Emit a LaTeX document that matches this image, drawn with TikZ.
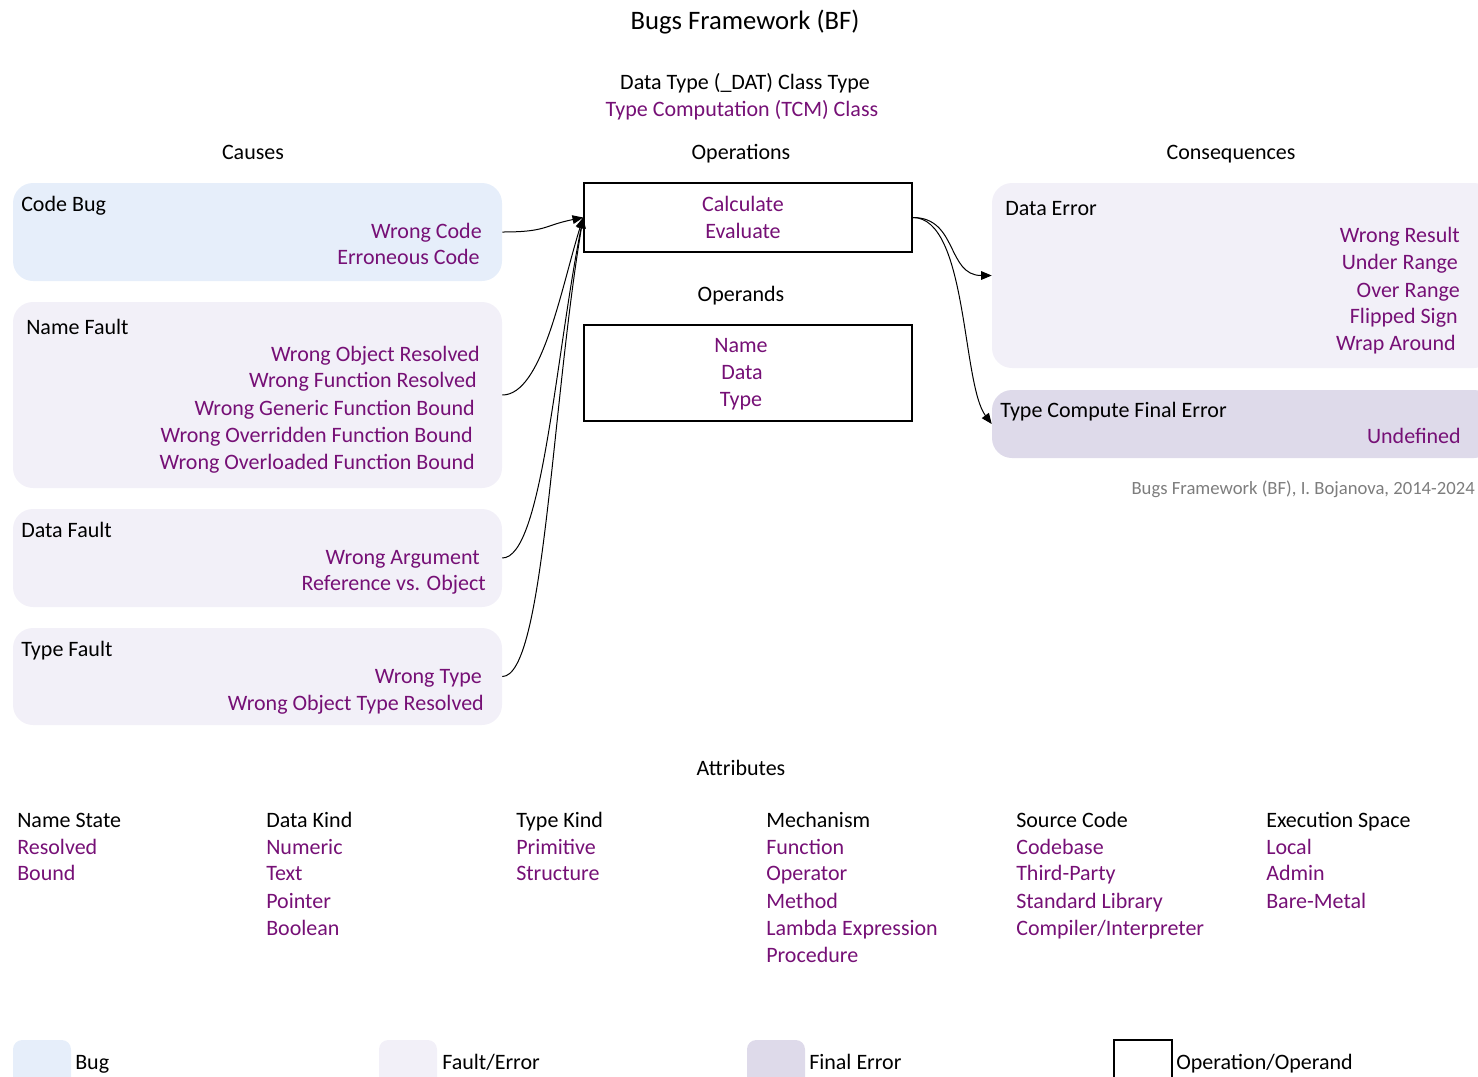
\documentclass[tikz,border=0pt]{standalone}
\usepackage{fontspec}
\setmainfont{Carlito}
\usetikzlibrary{arrows.meta,fit}

\definecolor{bugfill}{RGB}{230,238,250}
\definecolor{faultfill}{RGB}{242,240,248}
\definecolor{finalfill}{RGB}{222,218,234}
\definecolor{bfpurple}{RGB}{118,16,118}
\definecolor{notegray}{RGB}{125,125,125}

\tikzset{
  lbl/.style={inner sep=0.75pt, shift={(0,-2)}, text height=11.5pt, text depth=4pt, font=\fontsize{16.5}{20}\selectfont},
  val/.style={lbl, text=bfpurple},
  bugbox/.style={rounded corners=15pt, fill=bugfill, draw=none, inner sep=0pt},
  faultbox/.style={rounded corners=15pt, fill=faultfill, draw=none, inner sep=0pt},
  finalbox/.style={rounded corners=15pt, fill=finalfill, draw=none, inner sep=0pt},
  opbox/.style={draw=black, fill=white, line width=1.2pt, inner sep=0pt},
  link/.style={-{Triangle[length=8pt,width=6.5pt]}, line width=0.75pt}
}

\begin{document}
\begin{tikzpicture}[x=0.75pt,y=0.75pt,yscale=-1,xscale=1]
\useasboundingbox (0,0) rectangle (1478,1076);

% Title
\node (title) [inner sep=0.75pt, shift={(0,-2)}, font=\fontsize{20}{24}\selectfont] at (745,20) {Bugs Framework (BF)};
\node (classtype) [lbl] at (745,82) {Data Type (\_DAT) Class Type};
\node (classname) [val] at (742,109) {Type Computation (TCM) Class};

% Column headers
\node (causes) [lbl] at (253,152) {Causes};
\node (operations) [lbl] at (741,152) {Operations};
\node (consequences) [lbl] at (1231,152) {Consequences};
\node (operands) [lbl] at (741,294) {Operands};

%Shape: Cause boxes
\node (codebug) [bugbox, fit={(13,183) (502,281)}] {};
\node (namefault) [faultbox, fit={(13,302) (502,488)}] {};
\node (datafault) [faultbox, fit={(13,509) (502,607)}] {};
\node (typefault) [faultbox, fit={(13,628) (502,725)}] {};

%Shape: Operation / operand boxes
\node (ops) [opbox, fit={(584,183) (912,252)}] {};
\node (opnds) [opbox, fit={(584,325) (912,421)}] {};

%Shape: Consequence boxes
\node (dataerr) [faultbox, fit={(992,183) (1494,368)}] {};
\node (tcferr) [finalbox, fit={(992,390) (1494,458)}] {};

% Text Node: Code Bug
\node (cbhead) [lbl, anchor=west] at (20,204) {Code Bug};
\node (cb1) [val, anchor=east] at (483,231) {Wrong Code};
\node (cb2) [val, anchor=east] at (481,257) {Erroneous Code};

% Text Node: Name Fault
\node (nfhead) [lbl, anchor=west] at (25,327) {Name Fault};
\node (nf1) [val, anchor=east] at (481,354) {Wrong Object Resolved};
\node (nf2) [val, anchor=east] at (478,380) {Wrong Function Resolved};
\node (nf3) [val, anchor=east] at (476,408) {Wrong Generic Function Bound};
\node (nf4) [val, anchor=east] at (474,435) {Wrong Overridden Function Bound};
\node (nf5) [val, anchor=east] at (476,462) {Wrong Overloaded Function Bound};

% Text Node: Data Fault
\node (dfhead) [lbl, anchor=west] at (20,530) {Data Fault};
\node (df1) [val, anchor=east] at (481,557) {Wrong Argument};
\node (df2) [val, anchor=east] at (487,583) {Reference vs. Object};

% Text Node: Type Fault
\node (tfhead) [lbl, anchor=west] at (20,649) {Type Fault};
\node (tf1) [val, anchor=east] at (483,676) {Wrong Type};
\node (tf2) [val, anchor=east] at (485,703) {Wrong Object Type Resolved};

% Text Node: Operations and operands
\node (op1) [val] at (743,204) {Calculate};
\node (op2) [val] at (743,231) {Evaluate};
\node (od1) [val] at (741,345) {Name};
\node (od2) [val] at (742,372) {Data};
\node (od3) [val] at (741,399) {Type};

% Text Node: Data Error
\node (dehead) [lbl, anchor=west] at (1004,208) {Data Error};
\node (de1) [val, anchor=east] at (1461,235) {Wrong Result};
\node (de2) [val, anchor=east] at (1459,262) {Under Range};
\node (de3) [val, anchor=east] at (1461,290) {Over Range};
\node (de4) [val, anchor=east] at (1459,316) {Flipped Sign};
\node (de5) [val, anchor=east] at (1457,343) {Wrap Around};

% Text Node: Type Compute Final Error
\node (fehead) [lbl, anchor=west] at (999,410) {Type Compute Final Error};
\node (fe1) [val, anchor=east] at (1462,436) {Undefined};

% Text Node: credit
\node (credit) [inner sep=0.75pt, anchor=east, text=notegray, font=\fontsize{14}{16}\selectfont] at (1476,489) {Bugs Framework (BF), I. Bojanova, 2014-2024};

%Curve Lines: causes to operation
\draw [link] (codebug.east) .. controls +(45,0) and +(-40,8) .. (ops.west);
\draw [link] (namefault.east) .. controls +(40,0) and +(-22,70) .. (ops.west);
\draw [link] (datafault.east) .. controls +(40,0) and +(-28,140) .. (ops.west);
\draw [link] (typefault.east) .. controls +(42,0) and +(-32,190) .. (ops.west);

%Curve Lines: operation to consequences
\draw [link] (ops.east) .. controls +(45,0) and +(-45,0) .. (dataerr.west);
\draw [link] (ops.east) .. controls +(55,0) and +(-30,-40) .. (tcferr.west);

% Attributes
\node (attrs) [lbl] at (741,768) {Attributes};

\node (ns) [lbl, anchor=west] at (16,820) {Name State};
\node (ns1) [val, anchor=west] at (16,847) {Resolved};
\node (ns2) [val, anchor=west] at (16,873) {Bound};

\node (dk) [lbl, anchor=west] at (265,820) {Data Kind};
\node (dk1) [val, anchor=west] at (265,847) {Numeric};
\node (dk2) [val, anchor=west] at (265,873) {Text};
\node (dk3) [val, anchor=west] at (265,901) {Pointer};
\node (dk4) [val, anchor=west] at (265,928) {Boolean};

\node (tk) [lbl, anchor=west] at (515,820) {Type Kind};
\node (tk1) [val, anchor=west] at (515,847) {Primitive};
\node (tk2) [val, anchor=west] at (515,873) {Structure};

\node (mc) [lbl, anchor=west] at (765,820) {Mechanism};
\node (mc1) [val, anchor=west] at (765,847) {Function};
\node (mc2) [val, anchor=west] at (765,873) {Operator};
\node (mc3) [val, anchor=west] at (765,901) {Method};
\node (mc4) [val, anchor=west] at (765,928) {Lambda Expression};
\node (mc5) [val, anchor=west] at (765,955) {Procedure};

\node (sc) [lbl, anchor=west] at (1015,820) {Source Code};
\node (sc1) [val, anchor=west] at (1015,847) {Codebase};
\node (sc2) [val, anchor=west] at (1015,873) {Third-Party};
\node (sc3) [val, anchor=west] at (1015,901) {Standard Library};
\node (sc4) [val, anchor=west] at (1015,928) {Compiler/Interpreter};

\node (es) [lbl, anchor=west] at (1265,820) {Execution Space};
\node (es1) [val, anchor=west] at (1265,847) {Local};
\node (es2) [val, anchor=west] at (1265,873) {Admin};
\node (es3) [val, anchor=west] at (1265,901) {Bare-Metal};

% Legend
\node (lgbug) [bugbox, rounded corners=7pt, fit={(13,1040) (71,1100)}] {};
\node (lgbugtxt) [lbl, anchor=west] at (74,1062) {Bug};
\node (lgfault) [faultbox, rounded corners=7pt, fit={(379,1040) (437,1100)}] {};
\node (lgfaulttxt) [lbl, anchor=west] at (441,1062) {Fault/Error};
\node (lgfinal) [finalbox, rounded corners=7pt, fit={(747,1040) (805,1100)}] {};
\node (lgfinaltxt) [lbl, anchor=west] at (808,1062) {Final Error};
\node (lgop) [opbox, line width=0.9pt, fit={(1114,1040) (1172,1100)}] {};
\node (lgoptxt) [lbl, anchor=west] at (1175,1062) {Operation/Operand};

\end{tikzpicture}
\end{document}
